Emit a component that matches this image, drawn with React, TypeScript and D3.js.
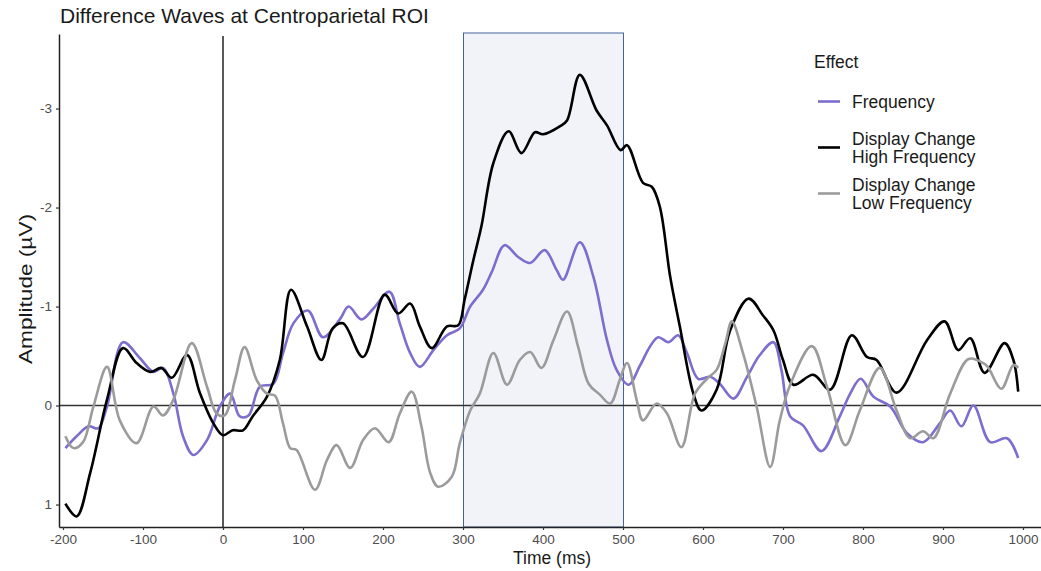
import React, { useRef, useEffect } from 'react';
import * as d3 from 'd3';

// legend labels and colours, in the order of the legend
const effects = ['Frequency', 'Display Change\nHigh Frequency', 'Display Change\nLow Frequency'];
const effectColors = ['#7e6cce', '#000000', '#9b9b9b'];

// [time (ms), amplitude (µV)]
const frequency: [number, number][] = [
  [-197, 0.43], [-183, 0.31], [-168, 0.21], [-156, 0.23], [-145, 0.01], [-125, -0.64],
  [-104, -0.48], [-87, -0.34], [-75, -0.38], [-62, -0.12], [-50, 0.31], [-37, 0.5],
  [-20, 0.35], [-4, 0.01], [9, -0.12], [21, 0.11], [32, 0.1], [46, -0.19], [63, -0.22],
  [75, -0.53], [88, -0.83], [106, -0.96], [125, -0.69], [146, -0.87], [157, -1.0],
  [173, -0.87], [188, -0.98], [208, -1.15], [221, -0.83], [234, -0.53], [246, -0.39],
  [263, -0.56], [280, -0.71], [296, -0.78], [309, -1.0], [325, -1.17], [336, -1.35],
  [352, -1.62], [369, -1.5], [384, -1.44], [402, -1.57], [417, -1.37], [425, -1.27],
  [446, -1.65], [463, -1.3], [480, -0.66], [492, -0.36], [507, -0.21], [521, -0.4],
  [534, -0.6], [544, -0.69], [557, -0.64], [569, -0.71], [580, -0.53], [594, -0.27],
  [609, -0.29], [621, -0.22], [638, -0.07], [655, -0.29], [671, -0.51], [688, -0.64],
  [698, -0.36], [709, 0.11], [725, 0.2], [748, 0.46], [771, 0.11], [784, -0.12],
  [797, -0.27], [813, -0.09], [834, 0.01], [855, 0.28], [875, 0.37], [896, 0.18],
  [909, 0.05], [923, 0.21], [938, 0.0], [959, 0.37], [980, 0.33], [994, 0.53],
];

const highFrequency: [number, number][] = [
  [-197, 0.99], [-183, 1.12], [-166, 0.68], [-145, -0.06], [-125, -0.58], [-108, -0.43],
  [-91, -0.34], [-77, -0.38], [-64, -0.28], [-45, -0.51], [-29, -0.13], [-12, 0.18],
  [0, 0.3], [12, 0.25], [25, 0.25], [37, 0.11], [55, -0.09], [71, -0.46], [85, -1.17],
  [105, -0.8], [123, -0.46], [137, -0.78], [150, -0.83], [175, -0.49], [202, -1.12],
  [219, -0.93], [234, -1.03], [246, -0.8], [261, -0.58], [280, -0.8], [294, -0.81],
  [302, -1.07], [313, -1.47], [323, -1.81], [338, -2.45], [357, -2.77], [373, -2.55],
  [390, -2.76], [400, -2.74], [421, -2.82], [430, -2.88], [446, -3.34], [467, -2.98],
  [480, -2.83], [497, -2.58], [505, -2.63], [525, -2.25], [536, -2.21], [546, -2.01],
  [559, -1.3], [571, -0.8], [588, -0.12], [598, 0.05], [617, -0.16], [634, -0.76],
  [657, -1.08], [675, -0.91], [688, -0.76], [700, -0.46], [713, -0.21], [738, -0.31],
  [759, -0.16], [786, -0.71], [805, -0.49], [817, -0.46], [842, -0.13], [880, -0.66],
  [902, -0.85], [919, -0.56], [934, -0.68], [952, -0.33], [977, -0.63], [988, -0.46],
  [994, -0.14],
];

const lowFrequency: [number, number][] = [
  [-197, 0.31], [-187, 0.43], [-175, 0.37], [-162, 0.01], [-145, -0.39], [-129, 0.15],
  [-108, 0.38], [-87, 0.01], [-75, 0.1], [-62, -0.06], [-39, -0.63], [-20, -0.19],
  [-8, 0.08], [2, 0.1], [15, -0.26], [27, -0.59], [42, -0.26], [55, -0.12], [65, -0.1],
  [75, 0.18], [84, 0.43], [92, 0.45], [115, 0.85], [130, 0.55], [142, 0.4], [159, 0.63],
  [175, 0.35], [190, 0.23], [207, 0.37], [221, 0.08], [236, -0.14], [248, 0.21],
  [259, 0.68], [269, 0.82], [286, 0.72], [296, 0.38], [309, 0.05], [321, -0.12],
  [338, -0.53], [355, -0.21], [371, -0.46], [384, -0.54], [398, -0.38], [413, -0.66],
  [430, -0.95], [444, -0.59], [457, -0.22], [471, -0.11], [484, -0.02], [496, -0.26],
  [505, -0.43], [517, -0.06], [525, 0.15], [542, -0.02], [555, 0.08], [573, 0.42],
  [590, -0.12], [605, -0.27], [617, -0.36], [628, -0.63], [636, -0.85], [650, -0.53],
  [667, 0.01], [684, 0.62], [696, 0.15], [709, -0.21], [736, -0.6], [755, -0.19],
  [778, 0.4], [796, 0.05], [821, -0.38], [842, 0.05], [859, 0.33], [875, 0.26],
  [888, 0.33], [909, -0.12], [932, -0.47], [950, -0.43], [956, -0.39], [973, -0.17],
  [988, -0.41], [994, -0.38],
];

const series = [frequency, highFrequency, lowFrequency];

const xTicks = [-200, -100, 0, 100, 200, 300, 400, 500, 600, 700, 800, 900, 1000];
const yTicks = [-3, -2, -1, 0, 1];
const roiWindow = [300, 500];

const FONT = '"Liberation Sans", Arial, sans-serif';

const Chart = () => {
  const ref = useRef<SVGSVGElement>(null);

  useEffect(() => {
    if (!ref.current) return;
    const svg = d3.select(ref.current);
    svg.selectAll('*').remove();

    // panel edges
    const left = 59;
    const right = 1041;
    const top = 34;
    const bottom = 527;

    const x = d3.scaleLinear().domain([-205, 1022.5]).range([left, right]);
    // reversed: negative amplitude up
    const y = d3.scaleLinear().domain([-3.753, 1.227]).range([top, bottom]);

    // highlighted window
    svg
      .append('rect')
      .attr('x', Math.round(x(roiWindow[0])) + 0.5)
      .attr('y', top - 1)
      .attr('width', Math.round(x(roiWindow[1]) - x(roiWindow[0])))
      .attr('height', bottom - top + 1)
      .attr('fill', '#f1f3f9')
      .attr('stroke', '#44639c')
      .attr('stroke-width', 1);

    // reference lines
    svg
      .append('line')
      .attr('x1', left)
      .attr('x2', right)
      .attr('y1', y(0))
      .attr('y2', y(0))
      .attr('stroke', '#333')
      .attr('stroke-width', 1.5);
    svg
      .append('line')
      .attr('x1', x(0))
      .attr('x2', x(0))
      .attr('y1', top + 2)
      .attr('y2', bottom)
      .attr('stroke', '#222')
      .attr('stroke-width', 1.5);

    // waves
    const line = d3
      .line<[number, number]>()
      .x((d) => x(d[0]))
      .y((d) => y(d[1]))
      .curve(d3.curveCatmullRom.alpha(0.5));

    series.forEach((s, i) => {
      svg
        .append('path')
        .datum(s)
        .attr('d', line)
        .attr('fill', 'none')
        .attr('stroke', effectColors[i])
        .attr('stroke-width', 2.6)
        .attr('stroke-linejoin', 'round')
        .attr('stroke-linecap', 'butt');
    });

    // axes
    const xAxis = svg
      .append('g')
      .attr('transform', `translate(0,${bottom})`)
      .call(
        d3
          .axisBottom(x)
          .tickValues(xTicks)
          .tickSize(3)
          .tickSizeOuter(0)
          .tickPadding(4)
          .tickFormat((d) => String(d))
      );
    const yAxis = svg
      .append('g')
      .attr('transform', `translate(${left},0)`)
      .call(
        d3
          .axisLeft(y)
          .tickValues(yTicks)
          .tickSize(3)
          .tickSizeOuter(0)
          .tickPadding(4)
          .tickFormat((d) => String(d))
      );
    [xAxis, yAxis].forEach((g) => {
      g.select('.domain').attr('stroke', '#222').attr('stroke-width', 1.5);
      g.selectAll('.tick line').attr('stroke', '#333').attr('stroke-width', 1.2);
      g.selectAll('.tick text')
        .attr('fill', '#4d4d4d')
        .attr('font-size', 13.5)
        .attr('font-family', FONT);
    });

    // titles
    svg
      .append('text')
      .text('Difference Waves at Centroparietal ROI')
      .attr('x', 60)
      .attr('y', 23)
      .attr('font-size', 21)
      .attr('fill', '#1a1a1a')
      .style('font-family', FONT);
    svg
      .append('text')
      .text('Time (ms)')
      .attr('x', 552)
      .attr('y', 564)
      .attr('text-anchor', 'middle')
      .attr('font-size', 17.5)
      .attr('fill', '#1a1a1a')
      .style('font-family', FONT);
    svg
      .append('text')
      .text('Amplitude (µV)')
      .attr('transform', 'translate(32,289) rotate(-90)')
      .attr('text-anchor', 'middle')
      .attr('font-size', 17.5)
      .attr('textLength', 150)
      .attr('lengthAdjust', 'spacingAndGlyphs')
      .attr('fill', '#1a1a1a')
      .style('font-family', FONT);

    // legend
    const legend = svg.append('g').attr('transform', 'translate(814,0)');
    legend
      .append('text')
      .text('Effect')
      .attr('x', 0)
      .attr('y', 68)
      .attr('font-size', 17.5)
      .attr('fill', '#1a1a1a')
      .style('font-family', FONT);
    effects.forEach((label, i) => {
      const ky = 101.5 + 46 * i;
      legend
        .append('line')
        .attr('x1', 4)
        .attr('x2', 26)
        .attr('y1', ky)
        .attr('y2', ky)
        .attr('stroke', effectColors[i])
        .attr('stroke-width', 2.6);
      const parts = label.split('\n');
      const t = legend
        .append('text')
        .attr('font-size', 17.5)
        .attr('fill', '#1a1a1a')
        .style('font-family', FONT);
      parts.forEach((p, j) => {
        t.append('tspan')
          .attr('x', 38)
          .attr('y', ky + 6 - (parts.length - 1) * 9 + j * 18)
          .text(p);
      });
    });
  }, []);

  return (
    <svg
      ref={ref}
      width={1041}
      height={571}
      style={{ position: 'absolute', left: 0, top: 0, background: '#fff' }}
    />
  );
};

export default function App() {
  return <Chart />;
}
